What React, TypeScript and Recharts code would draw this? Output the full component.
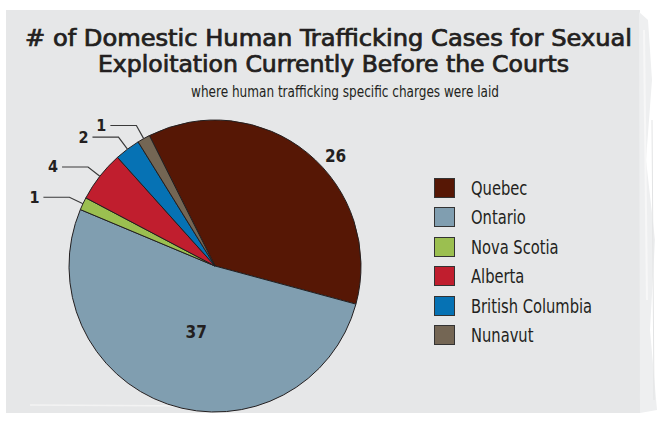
import React from 'react';
import { PieChart, Pie, Cell, Legend } from 'recharts';

const provinces = ['Quebec', 'Ontario', 'Nova Scotia', 'Alberta', 'British Columbia', 'Nunavut'];
const cases = [26, 37, 1, 4, 2, 1];
const colors = ['#561705', '#809eb0', '#9bbf50', '#c01e2e', '#0672b4', '#746654'];
const titleLines = ['# of Domestic Human Trafficking Cases for Sexual', 'Exploitation Currently Before the Courts'];
const subtitle = 'where human trafficking specific charges were laid';

const data = provinces.map((name, i) => ({ name, value: cases[i] }));

const FONT = '"DejaVu Sans Condensed", "DejaVu Sans", sans-serif';
const INK = '#231f20';
const RAD = Math.PI / 180;

const polar = (cx: number, cy: number, r: number, a: number) => ({
  x: cx + r * Math.cos(-a * RAD),
  y: cy + r * Math.sin(-a * RAD),
});

const renderLabel = (props: any) => {
  const { cx, cy, midAngle, outerRadius, value, index } = props;
  if (value >= 10) {
    const p = index === 0 ? polar(cx, cy, outerRadius + 17, midAngle - 8.5) : polar(cx, cy, outerRadius * 0.47, midAngle + 3);
    return (
      <text x={p.x} y={p.y} textAnchor="middle" dominantBaseline="central" fontFamily={FONT} fontWeight={700} fontSize={17} fill={INK}>
        {value}
      </text>
    );
  }
  const a = polar(cx, cy, outerRadius, midAngle);
  const b = polar(cx, cy, outerRadius + 15, midAngle);
  const ex = b.x - 26;
  return (
    <g>
      <polyline points={`${a.x},${a.y} ${b.x},${b.y} ${ex},${b.y}`} fill="none" stroke="#3a3a3a" strokeWidth={1.2} />
      <text x={ex - 4} y={b.y} textAnchor="end" dominantBaseline="central" fontFamily={FONT} fontWeight={700} fontSize={16} fill={INK}>
        {value}
      </text>
    </g>
  );
};

const renderLegend = () => (
  <div style={{ fontFamily: FONT, color: INK }}>
    {provinces.map((p, i) => (
      <div key={p} style={{ display: 'flex', alignItems: 'center', height: 29.5 }}>
        <div style={{ width: 19, height: 18, background: colors[i], border: '1.5px solid #333', marginRight: 16, flex: 'none' }} />
        <span style={{ fontSize: 19, lineHeight: '20px', display: 'inline-block', transform: 'scaleX(0.86)', transformOrigin: 'left center', whiteSpace: 'nowrap' }}>{p}</span>
      </div>
    ))}
  </div>
);

export default function App() {
  return (
    <div style={{ position: 'absolute', left: 0, top: 0, width: 671, height: 421, background: '#fff', overflow: 'hidden' }}>
      <svg width={671} height={421} style={{ position: 'absolute', left: 0, top: 0 }}>
        <rect x={6} y={10} width={634} height={403} fill="#e6e7e8" />
        <polygon points="639,12 648,20 652,80 646,160 655,240 650,330 657,410 640,413" fill="#eeeff0" />
        <line x1={644} y1={30} x2={647} y2={300} stroke="#f7f7f7" strokeWidth={2} />
        <line x1={652} y1={120} x2={654} y2={400} stroke="#e2e3e4" strokeWidth={1} />
        <line x1={30} y1={405} x2={200} y2={406} stroke="#f3f3f3" strokeWidth={1.5} />
        <text x={25} y={46} textLength={607} lengthAdjust="spacingAndGlyphs" fontFamily={FONT} fontSize={22.5} fill={INK} stroke={INK} strokeWidth={0.7}>
          {titleLines[0]}
        </text>
        <text x={98} y={72} textLength={471} lengthAdjust="spacingAndGlyphs" fontFamily={FONT} fontSize={22.5} fill={INK} stroke={INK} strokeWidth={0.7}>
          {titleLines[1]}
        </text>
        <text x={191} y={96.5} textLength={308} lengthAdjust="spacingAndGlyphs" fontFamily={FONT} fontSize={15} fill={INK}>
          {subtitle}
        </text>
      </svg>
      <div style={{ position: 'absolute', left: 0, top: 0 }}>
        <PieChart width={671} height={421} margin={{ top: 0, right: 0, bottom: 0, left: 0 }}>
          <Pie
            data={data}
            dataKey="value"
            nameKey="name"
            cx={215}
            cy={266}
            outerRadius={146}
            startAngle={116.7}
            endAngle={-243.3}
            stroke={INK}
            strokeWidth={1}
            label={renderLabel}
            labelLine={false}
            isAnimationActive={false}
          >
            {data.map((d, i) => (
              <Cell key={d.name} fill={colors[i]} />
            ))}
          </Pie>
          <Legend
            content={renderLegend}
            layout="vertical"
            wrapperStyle={{ position: 'absolute', left: 434, top: 173, width: 200 }}
          />
        </PieChart>
      </div>
    </div>
  );
}
